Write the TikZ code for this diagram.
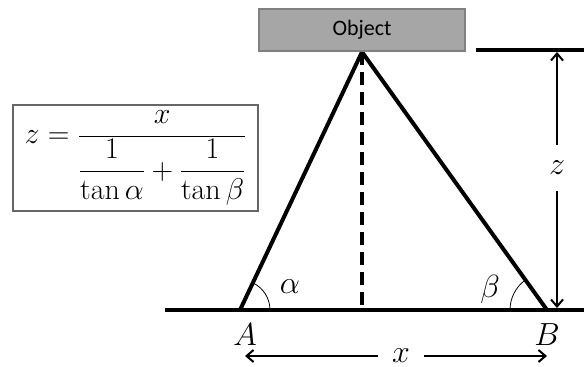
\RequirePackage{fix-cm}
\documentclass[tikz,border=0pt]{standalone}
\usepackage{amsmath}
\usepackage{fontspec}
\newfontfamily\objfont{Carlito}
\usetikzlibrary{arrows.meta}

\begin{document}
\begin{tikzpicture}[
    x=1pt, y=1pt,
    objbox/.style={rectangle, draw=black!50, fill=black!35, line width=2pt, minimum width=206pt, minimum height=42pt, inner sep=0pt, font=\objfont\fontsize{22}{26}\selectfont},
    formbox/.style={rectangle, draw=black!60, line width=1.2pt, minimum width=245pt, minimum height=106pt, inner sep=0pt, font=\fontsize{30}{36}\selectfont},
    lbl/.style={inner sep=0pt, font=\fontsize{32}{38}\selectfont},
    beam/.style={line width=4pt},
    dimarrow/.style={-{Straight Barb[length=7pt, width=12pt]}, line width=2pt},
    anglearc/.style={line width=0.8pt}
]
    \useasboundingbox (0,0) rectangle (584,367);

    % points of the triangle
    \coordinate (apex) at (362,315);
    \coordinate (A) at (240,57);
    \coordinate (B) at (547,57);
    \coordinate (foot) at (362,57);
    \coordinate (baseL) at (165,57);
    \coordinate (baseR) at (584,57);
    \coordinate (topL) at (476,317);
    \coordinate (topR) at (584,317);

    \draw[beam, dash pattern=on 13pt off 7pt] (apex) -- (foot);
    \draw[beam] (A) -- (apex) -- (B);
    \draw[beam] (baseL) -- (baseR);
    \draw[beam] (topL) -- (topR);

    \node[objbox, anchor=south] (object) at (apex) {Object};

    % angles
    \draw[anglearc] ([shift={(30pt,0pt)}]A) arc[start angle=0, end angle=64.5, radius=30pt];
    \draw[anglearc] ([shift={(-37pt,0pt)}]B) arc[start angle=180, end angle=125.6, radius=37pt];
    \node[lbl] (alpha) at (290,80) {$\alpha$};
    \node[lbl] (beta) at (490,77) {$\beta$};
    \node[lbl] (Alab) at (245,32) {$A$};
    \node[lbl] (Blab) at (547,32) {$B$};

    % height z
    \coordinate (zTop) at (557,315);
    \coordinate (zBot) at (557,59);
    \node[lbl, minimum height=46pt] (zlab) at (557,199) {$z$};
    \draw[dimarrow] (zlab) -- (zTop);
    \draw[dimarrow] (zlab) -- (zBot);

    % base x
    \coordinate (xL) at (245,11);
    \coordinate (xR) at (547,11);
    \node[lbl, minimum width=46pt] (xlab) at (401,11) {$x$};
    \draw[dimarrow] (xlab) -- (xL);
    \draw[dimarrow] (xlab) -- (xR);

    \node[formbox] (formula) at (135.5,209) {$\displaystyle z=\frac{x}{\dfrac{1}{\tan\alpha}+\dfrac{1}{\tan\beta}}$};
\end{tikzpicture}
\end{document}
